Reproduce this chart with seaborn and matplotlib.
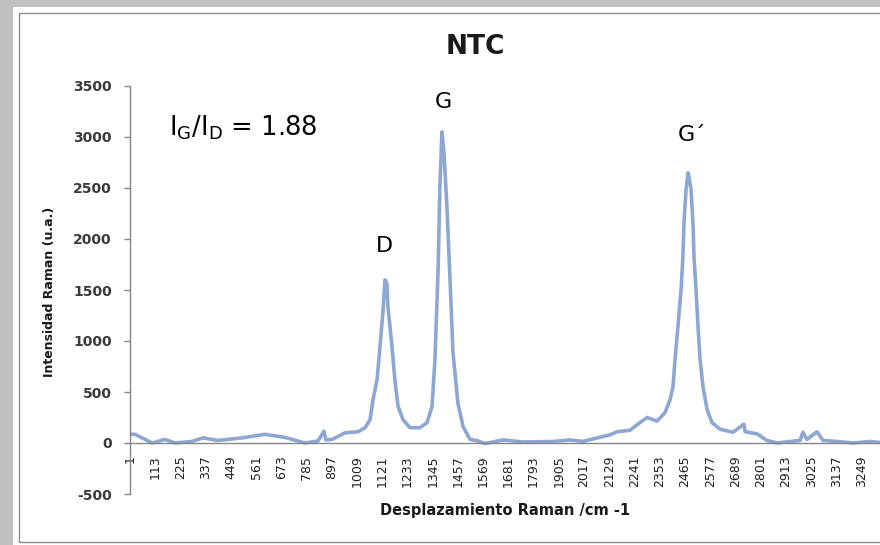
import matplotlib
matplotlib.use("Agg")
import matplotlib.pyplot as plt
import seaborn as sns
import pandas as pd
from matplotlib.patches import Rectangle

# ---- data (x = category index, y = intensity) ----
shift_index = [1, 23, 68, 99, 156, 201, 276, 325, 392, 498, 600, 689, 778, 836, 862,
               871, 898, 956, 1013, 1045, 1067, 1080, 1098, 1111, 1124, 1133, 1142,
               1146, 1164, 1177, 1191, 1213, 1244, 1289, 1320, 1342, 1355, 1369, 1377,
               1386, 1395, 1408, 1422, 1435, 1457, 1480, 1511, 1546, 1577, 1657, 1746,
               1879, 1955, 2012, 2075, 2132, 2163, 2221, 2265, 2297, 2341, 2377, 2399,
               2412, 2421, 2434, 2448, 2456, 2461, 2470, 2479, 2492, 2501, 2505, 2514,
               2523, 2532, 2545, 2563, 2585, 2621, 2678, 2727, 2732, 2785, 2829, 2874,
               2931, 2976, 2989, 3007, 3051, 3078, 3140, 3211, 3287, 3331]
intensity = [85, 85, 35, 0, 35, 0, 15, 50, 25, 50, 85, 55, 0, 20, 115,
             30, 35, 100, 110, 150, 230, 425, 620, 950, 1280, 1600, 1560,
             1340, 950, 620, 360, 230, 150, 150, 200, 360, 820, 1700, 2520,
             3050, 2850, 2320, 1600, 890, 390, 160, 35, 20, -5, 30, 10,
             15, 30, 15, 50, 80, 110, 125, 200, 250, 215, 300, 425,
             555, 820, 1145, 1510, 1830, 2180, 2490, 2650, 2490, 2130, 1830, 1510,
             1145, 820, 555, 330, 200, 135, 105, 185, 110, 90, 25, 0,
             15, 25, 105, 35, 110, 25, 15, 0, 15, 5]
tick_labels = [str(v) for v in range(1, 3250, 112)]
y_ticks = [-500, 0, 500, 1000, 1500, 2000, 2500, 3000, 3500]
peak_labels = ["D", "G", "G\u00b4"]
peak_pos = [(1129, 1935), (1391, 3340), (2497, 3015)]

df = pd.DataFrame({"idx": shift_index, "val": intensity})

sns.set_style("white")
plt.rcParams["font.family"] = ["DejaVu Sans"]

W, H = 880, 545
fig = plt.figure(figsize=(W / 100, H / 100), dpi=100)
fig.patch.set_facecolor("#c0c0c0")
# white chart area and its frame
fig.add_artist(Rectangle((13 / W, 0), 1, 1 - 7 / H, transform=fig.transFigure,
                         facecolor="white", edgecolor="none", zorder=0))
fig.add_artist(Rectangle((19 / W, 3 / H), 1.2, 1 - 16 / H, transform=fig.transFigure,
                         facecolor="none", edgecolor="#8c8c8c", lw=1.0, zorder=1))

ax = fig.add_axes([130 / W, (H - 494) / H, 1 - 130 / W, (494 - 86) / H])
ax.set_facecolor("none")
sns.lineplot(data=df, x="idx", y="val", ax=ax, color="#8ea6d2", lw=2.6)

for s in ["top", "right"]:
    ax.spines[s].set_visible(False)
ax.spines["left"].set_color("#868686")
ax.spines["left"].set_linewidth(1.0)
ax.spines["bottom"].set_position(("data", 0))
ax.spines["bottom"].set_color("#868686")
ax.spines["bottom"].set_linewidth(1.0)

ax.set_xlim(1, 3331)
ax.set_ylim(-500, 3500)
ax.set_yticks(y_ticks)
ax.set_yticklabels([str(v) for v in y_ticks], fontsize=10, fontweight="bold",
                   color="#3a3a3a")
ax.set_xticks(list(range(1, 3250, 112)))
ax.set_xticklabels(tick_labels, rotation=90, fontsize=9, color="#1f1f1f",
                   va="top", ha="center")
ax.tick_params(axis="y", direction="out", length=4, width=1, color="#868686",
               pad=9, left=True)
ax.tick_params(axis="x", length=0, pad=9)

ax.set_xlabel("")
ax.set_ylabel("")
fig.text(505 / W, 1 - 510 / H, "Desplazamiento Raman /cm -1", ha="center",
         va="center", fontsize=10.5, fontweight="bold", color="#1a1a1a")
fig.text(49 / W, 1 - 292 / H, "Intensidad Raman (u.a.)", ha="center",
         va="center", rotation=90, fontsize=9, fontweight="bold", color="#1a1a1a")
fig.text(475 / W, 1 - 47 / H, "NTC", ha="center", va="center", fontsize=19,
         fontweight="bold", color="#1a1a1a")

for lab, (px, py) in zip(peak_labels, peak_pos):
    ax.text(px, py, lab, ha="center", va="center", fontsize=16, color="black")
ax.text(175, 3090, r"$\mathregular{I_G/I_D}$ = 1.88", ha="left", va="center",
        fontsize=18.5, color="black")

fig.savefig("out.png", dpi=100, facecolor=fig.get_facecolor())
